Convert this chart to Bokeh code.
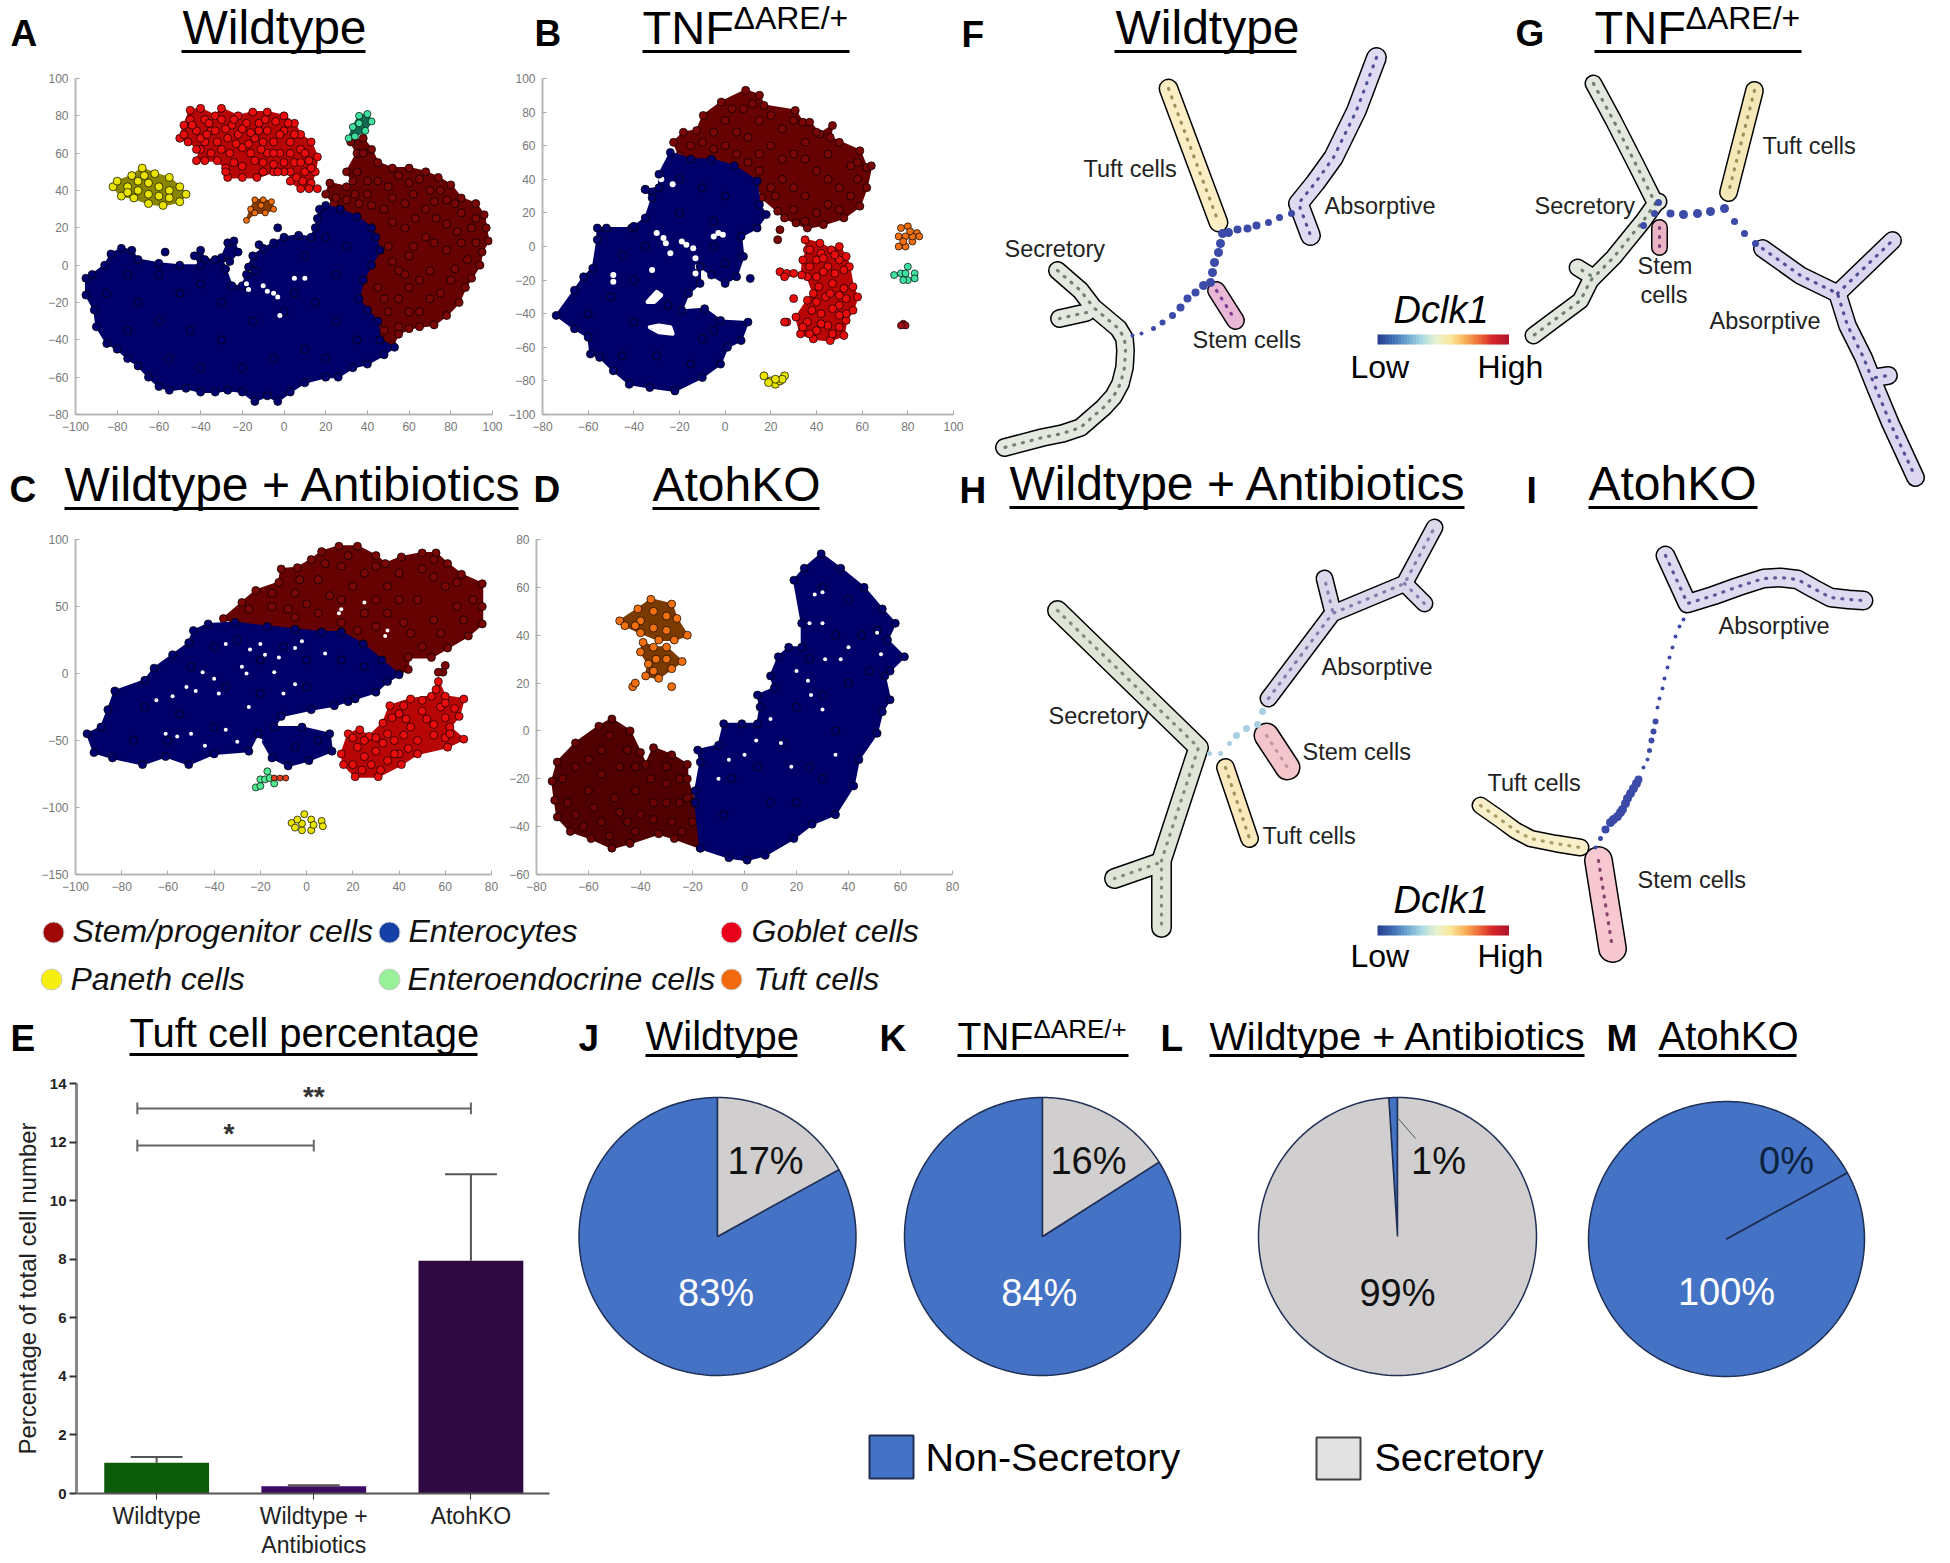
from bokeh.plotting import figure
from bokeh.layouts import row, column
from bokeh.models import Range1d, LinearAxis, FixedTicker
from bokeh.core.properties import value
from bokeh.embed import file_html
from bokeh.resources import INLINE
import numpy as np

FONT = "Liberation Sans"

# ---------- tSNE clusters: outlines and hand-read interior cells (x, y) ----------
A_stem = [(24,33),(20,38),(22,44),(30,42),(33,45),(30,50),(35,60),(32,66),(38,68),(42,62),(45,55),(52,52),(60,52),(68,50),(74,47),(80,43),(85,36),(92,33),(96,27),(97,20),(98,13),(95,7),(94,0),(90,-7),(87,-12),(84,-20),(78,-27),(72,-32),(65,-33),(60,-34),(55,-37),(52,-43),(47,-42),(45,-33),(40,-25),(36,-18),(38,-8),(42,0),(46,8),(44,15),(42,20),(35,26),(27,30)]
A_stem_in = [(30,35),(40,38),(50,42),(60,44),(70,40),(78,35),(85,28),(90,20),(85,12),(88,3),(78,22),(68,30),(58,33),(48,30),(58,20),(68,15),(78,8),(60,5),(70,-3),(80,-8),(50,10),(55,-3),(45,-12),(60,-12),(70,-18),(50,-25),(60,-25),(55,-33),(38,60),(35,50),
             (25,36),(34,38),(45,45),(55,48),(65,46),(75,40),(82,33),(92,25),(92,12),(72,34),(62,38),(52,36),(42,32),(36,33),(52,23),(63,25),(73,25),(83,18),(72,12),(62,10),(52,2),(65,-8),(75,-15),(82,-2),(55,-18),(65,-25),(48,-18),(48,-35),(58,-5),(40,45)]
A_ent = [(-95,-7),(-95,-16),(-91,-24),(-90,-33),(-85,-42),(-80,-45),(-75,-50),(-70,-54),(-65,-60),(-60,-65),(-55,-67),(-47,-66),(-40,-68),(-33,-68),(-27,-67),(-20,-68),(-14,-73),(-8,-70),(-3,-73),(3,-68),(10,-63),(20,-60),(26,-60),(33,-55),(40,-53),(48,-48),(53,-44),(46,-40),(45,-30),(40,-24),(36,-18),(38,-8),(42,0),(46,8),(44,15),(42,20),(35,26),(27,30),(20,32),(17,30),(16,25),(15,20),(13,15),(7,16),(0,15),(-5,12),(-10,9),(-15,5),(-17,-1),(-14,-3),(-18,-5),(-20,-11),(-25,-11),(-28,-2),(-30,4),(-27,12),(-24,13),(-22,7),(-26,2),(-33,3),(-38,3),(-40,8),(-43,5),(-40,0),(-50,0),(-60,1),(-70,3),(-73,8),(-78,9),(-83,6),(-86,0),(-92,-5)]
A_ent_in = [(-85,-15),(-75,-5),(-70,-20),(-60,-5),(-50,-15),(-40,-10),(-30,-20),(-75,-35),(-60,-30),(-45,-35),(-30,-40),(-15,-30),(0,-25),(15,-20),(25,-5),(30,10),(20,15),(10,5),(5,-15),(25,-30),(35,-40),(10,-45),(-5,-50),(-20,-55),(-40,-55),(-55,-50),(20,-50),(-3,20),(-12,11),(-57,7)]
A_gob = [(-50,68),(-48,75),(-45,83),(-40,84),(-33,80),(-30,84),(-22,80),(-15,82),(-8,82),(0,80),(5,76),(8,70),(13,66),(16,58),(15,50),(13,44),(16,41),(12,41),(8,41),(3,45),(3,50),(0,50),(-5,50),(-13,47),(-20,47),(-27,47),(-28,52),(-32,56),(-38,56),(-42,56),(-40,62),(-46,66)]
A_gob_in = [(-45,78),(-42,72),(-38,78),(-35,72),(-30,78),(-25,75),(-32,66),(-27,68),(-22,70),(-18,76),(-12,76),(-8,72),(-14,68),(-20,63),(-26,60),(-35,60),(-5,66),(0,72),(3,66),(-2,60),(-8,60),(-14,56),(-20,53),(8,62),(5,55),(10,50),(-5,54),(0,55),(12,56),(6,47),(-10,50),(-38,66),
            (-48,70),(-44,75),(-40,68),(-36,76),(-33,72),(-28,73),(-24,78),(-20,73),(-16,71),(-12,72),(-9,78),(-4,77),(-2,70),(2,76),(5,70),(-10,66),(-17,65),(-23,65),(-30,62),(-37,70),(-42,62),(-5,60),(10,60),(13,52),(8,55),(3,60),(-11,62),(-16,60),(-24,55),(-28,50),(-10,55),(-3,50),(9,45)]
A_pan = [(-82,42),(-80,45),(-73,48),(-68,52),(-62,49),(-55,47),(-50,42),(-47,38),(-50,34),(-58,32),(-65,33),(-72,36),(-78,37)]
A_pan_in = [(-75,42),(-70,45),(-65,44),(-60,42),(-55,40),(-70,40),(-65,38),(-60,37),(-55,36),(-67,48),(-75,39)]
A_tuft = [(-18,24),(-16,30),(-14,35),(-10,35),(-6,34),(-5,30),(-9,28),(-14,28)]
A_tuft_in = [(-11,32)]
A_endo = [(31,68),(33,74),(36,80),(40,81),(42,77),(39,72),(34,69)]
A_endo_in = [(36,76)]
A_holes = [(-18,-10),(-10,-11),(-8,-14),(-5,-15),(-3,-17),(5,-7),(10,-7),(-17,-13),(-2,-27)]

B_stem = [(-22.6,62),(-18.3,68),(-12.5,69),(-9.6,78),(-1.7,86),(9,93),(15,90),(17,84),(30.7,81),(34,74),(37,74),(41.5,67),(47,72),(46,65),(59,57),(62,47),(64,48),(62,35),(59,24),(52,17),(43,13),(36,11),(31,14),(26,17),(23,21),(16,29),(14,39),(4,48),(-6,52),(-15,52),(-20,54)]
B_stem_in = [(-10,62),(0,75),(8,82),(15,75),(25,70),(35,62),(45,55),(55,48),(50,35),(40,45),(30,55),(20,60),(10,65),(0,60),(15,45),(25,40),(35,30),(45,25),(55,30),(30,22),(22,30),(5,55),(24,10),(23,4),
             (-15,60),(-5,68),(3,82),(12,85),(20,78),(30,75),(40,68),(50,62),(58,50),(45,40),(35,52),(25,52),(15,55),(5,68),(10,50),(20,35),(30,35),(40,20),(50,22),(58,40),(-5,58),(35,15)]
B_ent = [(-24,56),(-15,52),(-6,52),(4,48),(14,39),(15,25),(18,19),(14,11),(7,6),(8,-6),(5,-18),(0,-22),(-6,-17),(-11,-12),(-11,-22),(-16,-28),(-19,-38),(-9,-37),(-2,-44),(10,-45),(7,-56),(1,-60),(-2,-70),(-10,-78),(-22,-86),(-33,-84),(-42,-82),(-49,-74),(-55,-66),(-59,-64),(-60,-54),(-66,-49),(-74,-41),(-66,-26),(-62,-18),(-58,-13),(-56,4),(-56,11),(-52,11),(-41,11),(-35,17),(-32,29),(-35,34),(-29,35),(-29,43)]
B_ent_in = [(-20,40),(-10,35),(0,30),(-20,20),(-5,15),(-45,-5),(-35,0),(-50,-30),(-60,-40),(-40,-20),(-40,-45),(-45,-65),(-30,-65),(-15,-70),(-10,-55),(-5,-50),(-25,-35),(0,-10),(-5,0),(11,-19),(-35,34),(-40,12)]
B_gob = [(35,4),(41.5,2),(46.5,-2),(50,0),(53,-6),(54.4,-12),(56,-24),(58,-30),(56,-38),(53,-44),(52,-53),(46,-56),(38.6,-55),(33,-52),(31,-42),(36,-32),(38.6,-28),(36,-18),(33.5,-17),(34,-8),(36,-2)]
B_gob_in = [(40,-8),(45,-12),(50,-8),(40,-18),(47,-22),(52,-25),(44,-30),(50,-35),(42,-40),(36,-45),(45,-47),(40,-50),(50,-48),(24,-15),(27,-16),(30,-16),(26,-18),(30,-31),(27,-45),(26,-45),
            (37,-2),(42,-4),(48,-5),(37,-12),(43,-7),(52,-14),(48,-16),(43,-15),(41,-24),(46,-28),(53,-31),(50,-29),(40,-33),(47,-37),(53,-40),(38,-38),(34,-48),(42,-46),(47,-52),(50,-41),(37,-52)]
B_pan_in = [(17,-77),(20,-80),(22,-82),(24,-80),(26,-77),(25,-79),(22,-79),(19,-81)]
B_tuft_in = [(77,11),(80,12),(84,8),(85,6),(82,3),(79,0),(76,0),(76,6),(79,6),(82,6),(78,3),(81,9)]
B_endo_in = [(74,-17),(77,-16),(80,-12),(83,-16),(83,-19),(80,-20),(78,-20),(79,-16)]
B_dark_in = [(78,-46),(79,-47),(77,-47)]
B_holes = [[(-33,-48),(-29,-47),(-24,-48),(-23,-52),(-29,-51)],[(-34,-33),(-30,-27),(-28,-29),(-31,-33)]]
B_specks = [(-13,-7),(-12,-12),(-13,-16),(-19,3),(-17,1),(-3,8),(-1,7),(-5,6),(-30,8),(-27,5),(-26,2),(-49,-17),(-49,-21),(-24,-4),(-14,-1),(-32,-14),(-28,40),(-23,37)]

C_stem = [(-36,41),(-28,53),(-22,62),(-12,68),(-11,78),(-4,79),(2,85),(6.5,91),(14,95),(22,95),(30,88),(34,82),(41,87),(50,90),(56,90),(61,82),(67,74),(76,67),(76,50),(76,37),(70,28),(61,19),(54,12),(44,12),(44,3),(40,0),(32.5,10),(24.5,22),(15,31),(6.5,31),(-5,33),(-17,35),(-31,38)]
C_stem_in = [(-15,50),(-5,60),(5,70),(15,80),(25,75),(35,65),(50,78),(60,65),(65,50),(55,40),(45,30),(35,45),(25,45),(15,55),(5,45),(-5,42),(60,6),(59,1),(57,1),
             (-25,48),(-15,60),(-3,70),(8,82),(18,88),(30,80),(40,75),(55,85),(65,68),(72,55),(68,40),(58,30),(50,20),(42,38),(30,55),(20,65),(10,58),(0,52),(-8,48),(48,55),(55,72),(30,35),(22,32),(15,38),(40,55)]
C_ent = [(-49,32),(-42.6,37),(-31,38),(-17,35),(-5,33),(6.5,31),(15,31),(24.5,22),(32.5,10),(40,-1),(35,-6),(30,-14),(21,-19),(12,-24),(2,-27),(-11,-32),(-14,-40),(-2,-40),(10,-45),(11,-58),(1,-65),(-8,-69),(-15,-63),(-21,-45),(-25,-58),(-40,-60),(-51,-68),(-61,-62),(-71,-68),(-84,-63),(-92,-59),(-95,-45),(-89,-40),(-86,-27),(-83,-13),(-70,-5),(-66,4),(-58,14),(-51,23)]
C_ent_in = [(-40,20),(-30,25),(-20,10),(-10,20),(0,10),(15,10),(25,5),(-50,5),(-35,-10),(-20,-15),(0,-10),(-70,-25),(-55,-30),(-40,-40),(-75,-50),(-60,-50),(-5,-55),(5,-50),(18,-21)]
C_holes = [(-18,14),(-28,5),(-45,1),(-58,-17),(-48,-13),(-5,19),(-24.5,18),(-14,1),(-56,-47),(-30,-51),(-44,-54),(-61,-45),(14,45),(35,32),(25,53),(15,48),(34,28),(-2,24),(-26,0),(-40,-4),
           (-35,22),(-20,22),(-12,12),(8,15),(-38,-15),(-52,-10),(-65,-20),(-10,-15),(-25,-25),(-5,-8),(-50,-45),(-20,-50),(-35,-42)]
C_gob = [(57,-6),(60,-17),(68,-19),(66,-32),(62,-40),(68,-49),(61,-55),(48,-60),(41,-68),(31,-77),(21,-77),(16,-68),(15,-60),(18,-45),(23,-42),(27,-47),(33,-37),(36,-24),(45,-19),(54,-17)]
C_gob_in = [(40,-30),(50,-28),(58,-25),(45,-40),(55,-38),(60,-48),(48,-50),(38,-50),(30,-58),(22,-55),(28,-68),(35,-65),(40,-60),(20,-68),
            (56,-12),(60,-22),(64,-26),(50,-20),(42,-24),(37,-33),(43,-34),(52,-34),(60,-33),(62,-45),(55,-46),(42,-46),(35,-45),(33,-52),(44,-56),(30,-48),(25,-62),(20,-48),(25,-50),(32,-72),(24,-72),(38,-60)]
C_endo_in = [(-22,-85),(-20,-79),(-17,-73),(-14,-82),(-18,-79),(-20,-84),(-16,-78)]
C_tuft_in = [(-14,-78),(-11.5,-78),(-9,-78)]
C_pan_in = [(-6.5,-111.5),(-5,-115),(-1,-105),(2,-109),(6.5,-110),(7,-114),(2,-117),(-2,-117),(-2,-112),(-4,-109),(3,-113)]

D_stem = [(-74,-21),(-72,-13),(-65,-5),(-56,2),(-51,5),(-44,0),(-40,-9),(-38,-14),(-35,-7),(-28,-10),(-22,-14),(-22,-20),(-19,-30),(-17,-49),(-27,-45),(-33,-43),(-44,-47),(-51,-49),(-59,-45),(-67,-42),(-72,-36),(-73,-29)]
D_stem_in = [(-65,-15),(-55,-8),(-48,-15),(-60,-25),(-50,-28),(-42,-25),(-65,-35),(-55,-38),(-45,-38),(-35,-30),(-30,-22),(-25,-30),(-28,-38),(-35,-37),
             (-70,-20),(-60,-12),(-52,-2),(-45,-8),(-55,-18),(-42,-15),(-68,-30),(-58,-32),(-48,-34),(-40,-35),(-62,-40),(-52,-44),(-42,-42),(-30,-15),(-25,-20),(-22,-28),(-20,-38),(-24,-42),(-30,-30),(-36,-20)]
D_ent = [(-19,-25),(-17,-13),(-18,-8),(-10,-6),(-8,3),(-1,3),(5,3),(6,10),(5,15),(11.5,18),(10,23),(13,31),(17,35),(22,35),(22,45),(19,63),(23,68),(29.5,74),(37,68),(46,60),(53,51),(58,45),(55,38),(61.5,31),(56,25),(54,23),(56,13),(53,8),(51,-1),(44,-12),(42,-23),(35,-35),(26,-39),(19,-45),(8,-52),(1,-54),(-6,-53),(-17,-49),(-19,-30)]
D_ent_in = [(30,60),(40,55),(35,40),(45,40),(25,30),(40,20),(30,15),(20,10),(35,0),(15,-5),(25,-15),(5,-15),(-5,-20),(10,-30),(-8,-35),(20,-30),(30,-20),(48,25),(51,42)]
D_holes = [(25.6,15),(30,9),(27,57),(31,30),(37,30),(4.5,-4),(24.4,21),(51,41),(52.5,32),(30,58),(-6,-12),(14,-5),(20,25),(10,5),(0,-10),(-10,-20),(40,35),(30,45),(18,-15),(35,-10),(25,45)]
D_tuft1 = [(-48,46),(-41,51),(-36,55),(-28,53),(-26,47),(-22,40),(-27,38),(-33,38),(-40,41),(-46,44)]
D_tuft1_in = [(-40,46),(-35,50),(-30,48),(-35,43),(-30,42),(-42,44)]
D_tuft2 = [(-39,37),(-35,35),(-30,35),(-24,29),(-28,26),(-33,22),(-38,23),(-37,28),(-40,33)]
D_tuft2_in = [(-34,30),(-30,30),(-35,25),(-43,18.5),(-42,20),(-28,18.5)]

# ---------- bar chart ----------
bar_categories = ["Wildtype", "Wildtype +", "AtohKO"]
bar_second_line = "Antibiotics"
bar_values = [1.05, 0.25, 7.95]
bar_err_top = [1.25, 0.28, 10.9]
bar_colors = ["#0c5c0c", "#3c0a60", "#2e0a42"]

# ---------- pies ----------
pie_titles = ["Wildtype", "TNF", "Wildtype + Antibiotics", "AtohKO"]
pie_secretory = [17, 16, 99, 0]
pie_nonsecretory = [83, 84, 1, 100]
pie_rotation = [0, 0, 0, 17]

# ---------- trajectory trees (page pixels) ----------
F_tubes = [
 ([[(1057,270),(1080,290),(1093,307),(1118,328),(1124,338),(1125,350),(1124,367),(1120,383),(1113,396),(1103,407),(1080,427),(1062,433),(1042,437),(1004,447)],[(1086,312),(1059,318)]],16,"#e3e8e0","#556655"),
 ([[(1168,88),(1218,222)]],17,"#fbeec5","#8a7a40"),
 ([[(1376,57),(1356,110),(1333,157),(1315,182),(1298,203),(1310,235)]],18,"#e0daf3","#2f2f80"),
 ([[(1216,290),(1235,320)]],16,"#e9b8d6","#5c1f80"),
]
F_conn = [(1291,213),(1279,217),(1268,222),(1256,225),(1247,228),(1237,229),(1228,232),(1222,233),(1220,243),(1218,252),(1214,262),(1212,272),(1210,282),(1203,285),(1195,292),(1187,298),(1180,307),(1172,315),(1162,322),(1153,328),(1141,333),(1132,335)]
F_conn_size = [7,7,7,8,8,8,9,9,9,9,9,9,9,9,8,8,8,7,6,5,4,4]
G_tubes = [
 ([[(1593,83),(1613,120),(1637,167),(1655,203),(1643,220),(1613,257),(1590,280),(1580,300),(1553,320),(1533,335)],[(1590,275),(1577,267)],[(1655,203),(1658,201)]],15,"#e2e8dd","#556655"),
 ([[(1754,90),(1728,192)]],16,"#f5e8b8","#8a7a40"),
 ([[(1659,227),(1659,247)]],14,"#eab6c4","#6b1f70"),
 ([[(1762,248),(1800,275),(1837,293),(1847,325),(1863,357),(1875,387),(1890,423),(1915,477)],[(1837,293),(1892,240)],[(1875,377),(1888,375)]],16,"#ddd6f0","#2f2f80"),
]
G_conn = [(1670,213),(1683,214),(1697,213),(1710,211),(1724,208),(1734,221),(1744,233),(1755,243),(1658,202),(1654,213),(1643,225)]
G_conn_size = [8,9,9,9,9,7,7,7,7,7,7]
H_tubes = [
 ([[(1057,610),(1198,747),(1161,860),(1161,927)],[(1157,863),(1114,878)]],18,"#dfe6d8","#667766"),
 ([[(1268,698),(1332,613),(1404,583),(1434,527)],[(1332,610),(1324,578)],[(1404,583),(1424,603)]],15,"#dcd8ec","#6a6a9a"),
 ([[(1266,735),(1287,767)]],23,"#f4c6cc","#b08a90"),
 ([[(1225,767),(1249,838)]],16,"#fbe8bd","#8a7a40"),
]
H_conn = [(1262,711),(1257,724),(1246,728),(1236,735),(1229,743),(1220,753),(1209,753)]
H_conn_size = [7,7,7,7,5,5,5]
I_tubes = [
 ([[(1665,555),(1687,603),(1713,595),(1738,586),(1763,578),(1780,577),(1797,579),(1813,588),(1830,597),(1848,599),(1863,600)]],17,"#e0daf0","#3a3a80"),
 ([[(1598,860),(1612,948)]],26,"#f8c8d0","#6b2050"),
 ([[(1480,805),(1500,819),(1515,830),(1530,838),(1555,843),(1580,847)]],15,"#f8efcb","#9a8a50"),
]
I_conn = [(1595,847),(1600,838),(1605,829),(1610,822),(1613,819),(1617,816),(1620,812),(1622,809),(1625,803),(1627,798),(1630,793),(1633,788),(1636,783),(1638,779),(1643,767),(1647,759),(1649,750),(1651,740),(1653,731),(1655,721),(1657,707),(1659,698),(1662,688),(1664,678),(1667,667),(1669,657),(1672,647),(1675,636),(1679,626),(1683,619)]
I_conn_size = [4,5,8,9,9,9,9,9,9,9,9,9,9,8,4,4,5,6,6,6,4,4,4,4,4,4,4,4,4,4]

colorbar_stops = ["#27408f","#3d6db5","#6aa6cf","#a8d8e4","#e6f3d0","#fbe9a0","#f9b45a","#ee6f3a","#d7252a","#b2162a"]

STEM, ENT, GOB, PAN, TUFT, ENDO = "#7a0606", "#00006e", "#e80d0d", "#e8e400", "#f07010", "#40e0a0"
BASE = 0.33  # Bokeh draws an alphabetic text this far (in em) under the given y


def canvas(x0, x1, y0, y1):
    p = figure(width=x1 - x0, height=y1 - y0, x_range=Range1d(x0, x1), y_range=Range1d(y1, y0),
               x_axis_location=None, y_axis_location=None, toolbar_location=None,
               output_backend="svg", min_border=0, outline_line_color=None)
    p.grid.visible = False
    return p


def T(p, x, y, s, size, bold=False, italic=False, color="black", align="left"):
    st = "bold" if bold else ("italic" if italic else "normal")
    p.text(x=[x], y=[y - BASE * size], text=[s], text_font=value(FONT), text_font_size=value(f"{size}px"),
           text_font_style=st, text_color=color, text_align=align, text_baseline="alphabetic")


def U(p, x0, x1, y):
    p.line([x0, x1], [y, y], line_color="black", line_width=3)


def cells(p, pts, fill, size=8):
    p.scatter([a for a, _ in pts], [b for _, b in pts], size=size, fill_color=fill, line_color="black", line_width=0.7)


def cluster(p, outline, inner, fill, under, size=8):
    p.patch([a for a, _ in outline], [b for _, b in outline], fill_color=under, line_color=under,
            line_width=2, line_join="round")
    cells(p, list(outline) + list(inner), fill, size)


def gaps(p, pts, size=5):
    p.scatter([a for a, _ in pts], [b for _, b in pts], size=size, fill_color="white", line_color=None)


def panel(w, h, left, right, top, bottom, xr, yr, xt, yt):
    p = figure(width=w, height=h, x_range=Range1d(*xr), y_range=Range1d(*yr), toolbar_location=None,
               output_backend="svg", min_border_left=left, min_border_right=right, min_border_top=top,
               min_border_bottom=bottom, outline_line_color=None)
    p.grid.visible = False
    p.xaxis.ticker = xt
    p.yaxis.ticker = yt
    for ax in (p.xaxis[0], p.yaxis[0]):
        ax.axis_line_color = "#b8b8b8"
        ax.axis_line_width = 2
        ax.major_tick_line_color = "#a8a8a8"
        ax.major_tick_in = 4
        ax.major_tick_out = 0
        ax.minor_tick_line_color = None
        ax.major_label_text_font = FONT
        ax.major_label_text_font_size = "12px"
        ax.major_label_text_color = "#777777"
        ax.major_label_standoff = 7
    return p


UG, UE, US = "#b80606", "#00006a", "#660202"
pa = panel(505, 382, 75, 13, 10, 36, (-100, 100), (-80, 100), list(range(-100, 101, 20)), list(range(-80, 101, 20)))
cluster(pa, A_stem, A_stem_in, STEM, US)
cluster(pa, A_ent, A_ent_in, ENT, UE)
gaps(pa, A_holes)
cluster(pa, A_gob, A_gob_in, GOB, UG)
cluster(pa, A_pan, A_pan_in, PAN, "#8a8600")
cluster(pa, A_tuft, A_tuft_in, TUFT, "#8a3c00", 6)
cluster(pa, A_endo, A_endo_in, ENDO, "#106a50", 7)

pb = panel(483, 382, 32, 35, 10, 36, (-80, 100), (-100, 100), list(range(-80, 101, 20)), list(range(-100, 101, 20)))
cluster(pb, B_stem, B_stem_in, STEM, US)
pb.patch([a for a, _ in B_ent], [b for _, b in B_ent], fill_color=UE, line_color=UE, line_width=2, line_join="round")
for hole in B_holes:
    pb.patch([a for a, _ in hole], [b for _, b in hole], fill_color="white", line_color="white", line_width=4, line_join="round")
gaps(pb, B_specks, 6)
cells(pb, list(B_ent) + list(B_ent_in), ENT)
cluster(pb, B_gob, B_gob_in, GOB, UG)
cells(pb, B_pan_in, PAN)
cells(pb, B_tuft_in, TUFT, 7)
cells(pb, B_endo_in, ENDO, 7)
cells(pb, B_dark_in, "#a0101a", 7)

pc = panel(505, 380, 75, 14, 13, 31, (-100, 80), (-150, 100), list(range(-100, 81, 20)), list(range(-150, 101, 50)))
cluster(pc, C_stem, C_stem_in, STEM, US)
cluster(pc, C_ent, C_ent_in, ENT, UE)
gaps(pc, C_holes, 4)
cluster(pc, C_gob, C_gob_in, GOB, UG)
cells(pc, C_endo_in, "#50e890", 7)
cells(pc, C_tuft_in, "#e04020", 6)
cells(pc, C_pan_in, PAN, 7)

pd = panel(483, 380, 31, 36, 14, 28, (-80, 80), (-60, 80), list(range(-80, 81, 20)), list(range(-60, 81, 20)))
cluster(pd, D_stem, D_stem_in, "#6a0404", "#500000")
cluster(pd, D_ent, D_ent_in, ENT, UE)
gaps(pd, D_holes, 4)
cluster(pd, D_tuft1, D_tuft1_in, TUFT, "#7a3a00")
cluster(pd, D_tuft2, D_tuft2_in, TUFT, "#7a3a00")

# strips with headings
s1 = canvas(0, 988, 0, 68)
T(s1, 10, 45, "A", 37, bold=True)
T(s1, 182, 43, "Wildtype", 48); U(s1, 181, 365, 51)
T(s1, 534, 45, "B", 37, bold=True)
T(s1, 642, 43, "TNF", 47); T(s1, 733, 28, "\u0394ARE/+", 32); U(s1, 642, 849, 51)
T(s1, 961, 46, "F", 37, bold=True)

s2 = canvas(0, 988, 450, 525)
T(s2, 9, 501, "C", 37, bold=True)
T(s2, 64, 500, "Wildtype + Antibiotics", 48); U(s2, 64, 518, 508)
T(s2, 533, 501, "D", 37, bold=True)
T(s2, 652, 500, "AtohKO", 48); U(s2, 652, 819, 508)
T(s2, 959, 502, "H", 37, bold=True)

# cell-type legend
leg = canvas(0, 988, 905, 1005)
legend_names = ["Stem/progenitor cells", "Enterocytes", "Goblet cells", "Paneth cells", "Enteroendocrine cells", "Tuft cells"]
legend_colors = ["#a00808", "#1440a8", "#e8001c", "#f5ee10", "#98f098", "#f26a10"]
legend_dx = [53, 389, 731, 51, 389, 731]
legend_tx = [72, 408, 751, 70, 407, 753]
legend_dy = [932, 932, 932, 979, 979, 979]
legend_by = [941, 941, 941, 989, 989, 989]
leg.scatter(legend_dx, legend_dy, size=21, fill_color=legend_colors, line_color="#cccccc", line_width=1)
for n, tx, by in zip(legend_names, legend_tx, legend_by):
    T(leg, tx, by, n, 32, italic=True, color="#111111")

# trees
tr = canvas(988, 1948, 0, 1005)


def tree(p, tubes, conn, conn_size, conn_color):
    for lines, w, fill, dots in tubes:
        p.multi_line([[a for a, _ in l] for l in lines], [[b for _, b in l] for l in lines], line_width=w + 3,
                      line_color="black", line_join="round", line_cap="round")
    for lines, w, fill, dots in tubes:
        p.multi_line([[a for a, _ in l] for l in lines], [[b for _, b in l] for l in lines], line_width=w,
                     line_color=fill, line_join="round", line_cap="round")
        p.multi_line([[a for a, _ in l] for l in lines], [[b for _, b in l] for l in lines], line_width=3.2,
                     line_color=dots, line_dash="1 8", line_cap="round", line_join="round", line_alpha=0.8)
    p.scatter([a for a, _ in conn], [b for _, b in conn], size=conn_size, fill_color=conn_color, line_color=None)


tree(tr, F_tubes, F_conn, F_conn_size, "#3c4ba8")
tree(tr, G_tubes, G_conn, G_conn_size, "#3c4ba8")
tree(tr, H_tubes, H_conn, H_conn_size, "#a9cfe0")
tree(tr, I_tubes, I_conn, I_conn_size, "#3c4ba8")

T(tr, 1115, 43, "Wildtype", 48); U(tr, 1114, 1296, 51)
T(tr, 1515, 45, "G", 37, bold=True)
T(tr, 1594, 43, "TNF", 47); T(tr, 1685, 28, "\u0394ARE/+", 32); U(tr, 1594, 1801, 51)
T(tr, 1009, 499, "Wildtype + Antibiotics", 48); U(tr, 1009, 1464, 507)
T(tr, 1526, 502, "I", 37, bold=True)
T(tr, 1588, 499, "AtohKO", 48); U(tr, 1588, 1757, 507)

tree_labels = [("Tuft cells",1083,176),("Absorptive",1324,213),("Secretory",1004,256),("Stem cells",1192,347),
               ("Tuft cells",1762,153),("Secretory",1534,213),("Stem",1637,273),("cells",1640,302),("Absorptive",1709,328),
               ("Absorptive",1321,674),("Secretory",1048,723),("Stem cells",1302,759),("Tuft cells",1262,843),
               ("Tuft cells",1487,790),("Stem cells",1637,887),("Absorptive",1718,633)]
for s, x, y in tree_labels:
    T(tr, x, y, s, 23.5, color="#222222")

stops = np.array([[int(c[i:i + 2], 16) for i in (1, 3, 5)] for c in colorbar_stops], dtype=float)
grad_n = 44
t = np.linspace(0, len(stops) - 1, grad_n)
grad = ["#%02x%02x%02x" % tuple(int(np.interp(v, range(len(stops)), stops[:, k])) for k in range(3)) for v in t]
for bl, top_y, lowy, dy in [(334, 344, 377, 322), (925, 935, 966, 912)]:
    edges = np.linspace(1377, 1508, grad_n + 1)
    tr.quad(left=edges[:-1], right=edges[1:] + 0.5, top=[top_y] * grad_n, bottom=[bl] * grad_n, fill_color=grad, line_color=None)
    T(tr, 1393, dy, "Dclk1", 38, italic=True)
    T(tr, 1350, lowy, "Low", 32)
    T(tr, 1477, lowy, "High", 32)

# headings of the lower section
s3 = canvas(0, 1948, 1005, 1065)
T(s3, 10, 1050, "E", 37, bold=True)
T(s3, 129, 1046, "Tuft cell percentage", 40); U(s3, 129, 477, 1054)
T(s3, 578, 1050, "J", 37, bold=True)
T(s3, 645, 1049, pie_titles[0], 40); U(s3, 645, 797, 1055)
T(s3, 879, 1050, "K", 37, bold=True)
T(s3, 957, 1049, pie_titles[1], 39); T(s3, 1033, 1037, "\u0394ARE/+", 26); U(s3, 957, 1128, 1055)
T(s3, 1160, 1050, "L", 37, bold=True)
T(s3, 1209, 1049, pie_titles[2], 39.6); U(s3, 1209, 1584, 1055)
T(s3, 1606, 1050, "M", 37, bold=True)
T(s3, 1658, 1049, pie_titles[3], 40); U(s3, 1658, 1796, 1055)

# bar chart
pe = figure(width=560, height=495, x_range=Range1d(0.49, 3.5), y_range=Range1d(0, 14), toolbar_location=None,
            output_backend="svg", min_border_left=76, min_border_right=11, min_border_top=18, min_border_bottom=66,
            outline_line_color=None)
pe.grid.visible = False
cat_x = [1, 2, 3]
pe.vbar(x=cat_x, top=bar_values, bottom=0, width=0.667, fill_color=bar_colors, line_color=None)
pe.segment(cat_x, bar_values, cat_x, bar_err_top, line_color="#555555", line_width=2)
pe.segment([c - 0.165 for c in cat_x], bar_err_top, [c + 0.165 for c in cat_x], bar_err_top, line_color="#555555", line_width=2)
sig_x0, sig_x1, sig_y, sig_t = [0.877, 0.877], [3.0, 2.0], [13.15, 11.88], ["**", "*"]
pe.segment(sig_x0, sig_y, sig_x1, sig_y, line_color="#666666", line_width=2)
pe.segment(sig_x0, [v - 0.2 for v in sig_y], sig_x0, [v + 0.2 for v in sig_y], line_color="#666666", line_width=2)
pe.segment(sig_x1, [v - 0.2 for v in sig_y], sig_x1, [v + 0.2 for v in sig_y], line_color="#666666", line_width=2)
pe.text(x=[2.0, 1.46], y=[13.57, 12.3], text=sig_t, text_font=value(FONT), text_font_size=value("28px"),
        text_font_style="bold", text_align="center", text_baseline="alphabetic", text_color="#333333")
pe.xaxis.ticker = cat_x
pe.xaxis.major_label_overrides = dict(zip(cat_x, bar_categories))
pe.yaxis.ticker = list(range(0, 15, 2))
pe.yaxis.axis_label = "Percentage of total cell number"
pe.yaxis.axis_label_text_font = FONT
pe.yaxis.axis_label_text_font_style = "normal"
pe.yaxis.axis_label_text_font_size = "24px"
pe.yaxis.axis_label_text_color = "#222222"
pe.yaxis.axis_label_standoff = 6
ay, ax = pe.yaxis[0], pe.xaxis[0]
ay.axis_line_color = "#888888"; ay.axis_line_width = 3
ay.major_tick_line_color = "#333333"; ay.major_tick_in = 0; ay.major_tick_out = 7; ay.minor_tick_line_color = None
ay.major_tick_line_width = 2
ay.major_label_text_font = FONT; ay.major_label_text_font_size = "15px"; ay.major_label_text_font_style = "bold"
ay.major_label_text_color = "#222222"; ay.major_label_standoff = 3
ax.axis_line_color = "#555555"; ax.axis_line_width = 2
ax.major_tick_line_color = "#333333"; ax.major_tick_in = 0; ax.major_tick_out = 6; ax.minor_tick_line_color = None
ax.major_label_text_font = FONT; ax.major_label_text_font_size = "23px"; ax.major_label_text_color = "#222222"
ax.major_label_standoff = 3
# the second line of the middle category label is a second, bare axis below the first
ax2 = LinearAxis(ticker=FixedTicker(ticks=[2]), major_label_overrides={2: bar_second_line}, axis_line_color=None,
                 major_tick_line_color=None, minor_tick_line_color=None, major_tick_in=0, major_tick_out=0,
                 major_label_standoff=0, major_label_text_font=FONT, major_label_text_font_size="23px",
                 major_label_text_color="#222222")
pe.add_layout(ax2, "below")

# pies
BLUE, GREY, EDGE = "#4472c4", "#d0cece", "#1f2f55"


def slice_xy(start_pct, pct):
    th = np.radians(np.linspace(start_pct, start_pct + pct, 181) * 3.6)
    return [0.0] + list(np.sin(th)), [0.0] + list(np.cos(th))


def pie(x0, x1, cx, rx, cy, ry, sec, non, rot, labels):
    y0, y1 = 1065, 1400
    p = figure(width=x1 - x0, height=y1 - y0, x_range=Range1d((x0 - cx) / rx, (x1 - cx) / rx),
               y_range=Range1d((cy - y1) / ry, (cy - y0) / ry), x_axis_location=None, y_axis_location=None,
               toolbar_location=None, output_backend="svg", min_border=0, outline_line_color=None)
    p.grid.visible = False
    nx, ny = slice_xy(rot + sec, non)
    p.patch(nx, ny, fill_color=BLUE, line_color=EDGE, line_width=1.5)
    sx, sy = slice_xy(rot, sec)
    p.patch(sx, sy, fill_color=GREY if sec else BLUE, line_color=EDGE, line_width=1.5)
    for lx, ly, s, col in labels:
        p.text(x=[lx], y=[ly + BASE * 38 / ry], text=[s], text_font=value(FONT), text_font_size=value("38px"), text_color=col,
               text_align="center", text_baseline="alphabetic")
    return p


pj = pie(560, 880, 717, 138.5, 1236, 139, pie_secretory[0], pie_nonsecretory[0], pie_rotation[0],
         [(0.347, 0.453, "17%", "#111111"), (-0.01, -0.496, "83%", "white")])
pk = pie(880, 1190, 1042, 138, 1236, 139, pie_secretory[1], pie_nonsecretory[1], pie_rotation[1],
         [(0.333, 0.453, "16%", "#111111"), (-0.024, -0.496, "84%", "white")])
pl = pie(1190, 1570, 1397, 139, 1236, 139, pie_secretory[2], pie_nonsecretory[2], pie_rotation[2],
         [(0.295, 0.453, "1%", "#111111"), (0.0, -0.496, "99%", "#111111")])
pl.line([0.004, 0.13], [0.85, 0.705], line_color="#555555", line_width=1)
pm = pie(1570, 1948, 1726, 138, 1238.5, 137.5, pie_secretory[3], pie_nonsecretory[3], pie_rotation[3],
         [(0.435, 0.476, "0%", "#0c2340"), (0.0, -0.48, "100%", "white")])

lg = canvas(560, 1948, 1400, 1560)
lg.quad(left=[869, 1316], right=[913, 1360], top=[1435, 1437], bottom=[1478, 1479], fill_color=[BLUE, "#e2e2e2"],
        line_color=["#1f2f55", "#444444"], line_width=2)
T(lg, 925, 1470, "Non-Secretory", 39.5)
T(lg, 1374, 1470, "Secretory", 39.5)

left_col = column(s1, row(pa, pb), s2, row(pc, pd), leg)
top = row(left_col, tr)
right_bottom = column(row(pj, pk, pl, pm), lg)
bottom = row(pe, right_bottom)
page = column(top, s3, bottom)

open("out.html", "w").write(file_html(page, INLINE))
